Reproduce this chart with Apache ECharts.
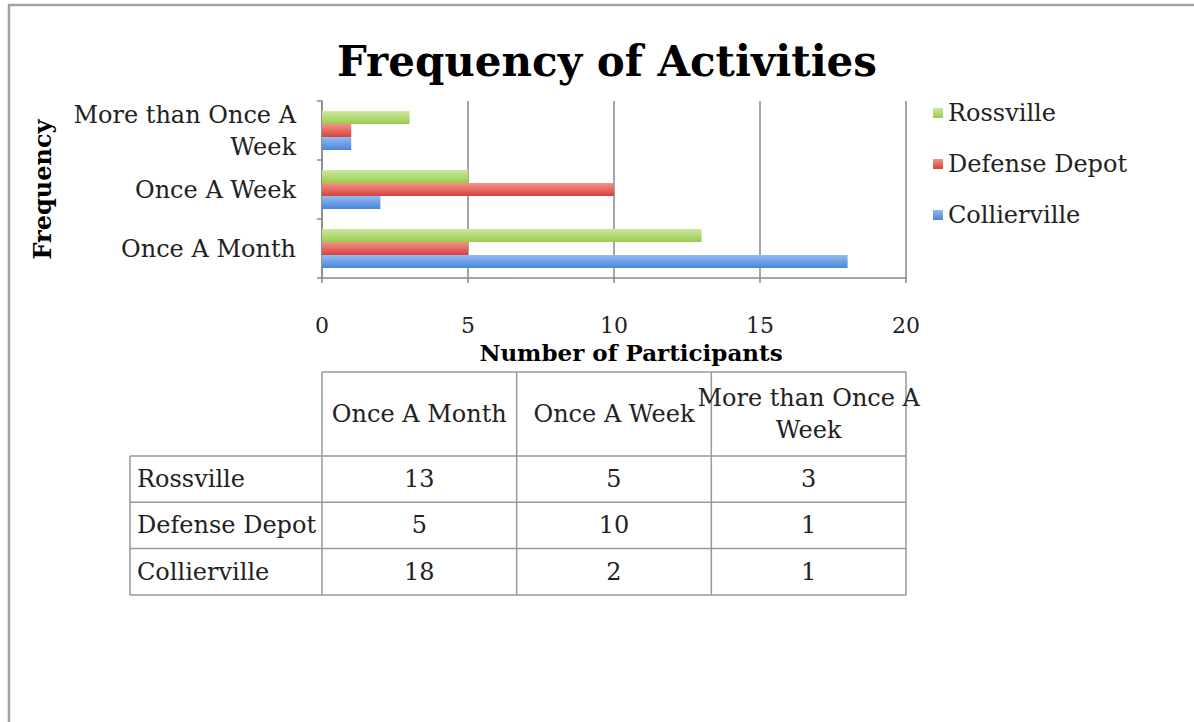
<!DOCTYPE html>
<html>
<head>
    <meta charset="UTF-8">
    <title>Frequency of Activities</title>
    <script src="https://cdn.jsdelivr.net/npm/echarts@6/dist/echarts.min.js"></script>
    <style>
        html, body { margin: 0; padding: 0; background: #fff; }
        #main { width: 1194px; height: 722px; }
    </style>
</head>
<body>
<div id="main"></div>
<script type="text/javascript">
    // categories (bottom to top on the y axis)
    var categories = ['Once A Month', 'Once A Week', 'More than Once A Week'];
    // series, legend order top to bottom
    var seriesNames = ['Rossville', 'Defense Depot', 'Collierville'];
    var rossville = [13, 5, 3];
    var defenseDepot = [5, 10, 1];
    var collierville = [18, 2, 1];
    var xTicks = [0, 5, 10, 15, 20];

    var seriesData = [rossville, defenseDepot, collierville];
    // light top -> dark bottom, like the glossy bars
    var colors = [
        ['#cbe99e', '#9acb4c'],
        ['#f29488', '#d8403e'],
        ['#92bdf2', '#4886d9']
    ];

    var font = 'DejaVu Serif';
    var plotLeft = 322, plotRight = 906, plotTop = 101, plotBottom = 278;

    // wrap long labels onto two lines
    function wrap(s) {
        if (s.length <= 16) return s;
        var i = s.lastIndexOf(' ', 16);
        return s.slice(0, i) + '\n' + s.slice(i + 1);
    }

    var chart = echarts.init(document.getElementById('main'), null, {renderer: 'svg'});

    var series = [];
    for (var i = 0; i < seriesNames.length; i++) {
        series.push({
            name: seriesNames[i],
            type: 'bar',
            barWidth: 13,
            barGap: '0%',
            data: seriesData[i],
            itemStyle: {
                color: new echarts.graphic.LinearGradient(0, 0, 0, 1, [
                    {offset: 0, color: colors[i][0]},
                    {offset: 1, color: colors[i][1]}
                ])
            }
        });
    }

    // data table under the chart, built from the same arrays
    var graphics = [];
    var lineStyle = {stroke: '#999', lineWidth: 1.5};
    var tableLeft = 130, headTop = 372, headBottom = 456, rowH = 46.3;
    var colW = (plotRight - plotLeft) / categories.length;
    var tableBottom = headBottom + rowH * seriesNames.length;

    function line(x1, y1, x2, y2) {
        graphics.push({type: 'line', shape: {x1: x1, y1: y1, x2: x2, y2: y2}, style: lineStyle, silent: true});
    }
    function text(t, x, y, align) {
        graphics.push({
            type: 'text', x: x, y: y, silent: true,
            style: {text: t, font: '24px "' + font + '"', fill: '#222', align: align, verticalAlign: 'middle', lineHeight: 32}
        });
    }

    line(plotLeft, headTop, plotRight, headTop);
    for (var r = 0; r <= seriesNames.length; r++) {
        line(tableLeft, headBottom + r * rowH, plotRight, headBottom + r * rowH);
    }
    line(tableLeft, headBottom, tableLeft, tableBottom);
    for (var c = 0; c <= categories.length; c++) {
        line(plotLeft + c * colW, headTop, plotLeft + c * colW, tableBottom);
    }
    for (var c = 0; c < categories.length; c++) {
        text(wrap(categories[c]), plotLeft + (c + 0.5) * colW, (headTop + headBottom) / 2, 'center');
    }
    for (var r = 0; r < seriesNames.length; r++) {
        var cy = headBottom + (r + 0.5) * rowH;
        text(seriesNames[r], tableLeft + 7, cy, 'left');
        for (var c = 0; c < categories.length; c++) {
            text(String(seriesData[r][c]), plotLeft + (c + 0.5) * colW, cy, 'center');
        }
    }

    // page frame
    graphics.push({
        type: 'rect', silent: true,
        shape: {x: 9, y: 5, width: 1300, height: 800},
        style: {fill: 'none', stroke: '#a3a3a3', lineWidth: 2.5}
    });

    var option = {
        backgroundColor: '#fff',
        animation: false,
        title: {
            text: 'Frequency of Activities',
            left: 337,
            top: 40,
            padding: 0,
            textStyle: {fontFamily: font, fontWeight: 'bold', fontSize: 42, color: '#000'}
        },
        legend: {
            data: seriesNames,
            orient: 'vertical',
            left: 928,
            top: 96,
            icon: 'rect',
            itemWidth: 10,
            itemHeight: 10,
            itemGap: 27,
            textStyle: {fontFamily: font, fontSize: 24, color: '#222'}
        },
        grid: {
            left: plotLeft,
            right: 1194 - plotRight,
            top: plotTop,
            bottom: 722 - plotBottom,
            containLabel: false
        },
        xAxis: {
            type: 'value',
            min: xTicks[0],
            max: xTicks[xTicks.length - 1],
            interval: xTicks[1] - xTicks[0],
            name: 'Number of Participants',
            nameLocation: 'middle',
            nameGap: 63,
            nameTextStyle: {fontFamily: font, fontWeight: 'bold', fontSize: 23, color: '#000', padding: [0, 0, 0, 34]},
            axisLine: {show: true, lineStyle: {color: '#888', width: 1.5}},
            axisTick: {show: true, length: 5, lineStyle: {color: '#888', width: 1.5}},
            axisLabel: {margin: 36, fontFamily: font, fontSize: 22, color: '#222'},
            splitLine: {show: true, lineStyle: {color: '#888', width: 1.5}}
        },
        yAxis: {
            type: 'category',
            data: categories,
            name: 'Frequency',
            nameLocation: 'middle',
            nameRotate: 90,
            nameGap: 268,
            nameTextStyle: {fontFamily: font, fontWeight: 'bold', fontSize: 24, color: '#000'},
            axisLine: {show: true, lineStyle: {color: '#888', width: 1.5}},
            axisTick: {show: true, length: 5, lineStyle: {color: '#888', width: 1.5}},
            axisLabel: {
                margin: 26, fontFamily: font, fontSize: 24, color: '#222', lineHeight: 32,
                formatter: wrap
            }
        },
        series: series,
        graphic: graphics
    };

    chart.setOption(option);
</script>
</body>
</html>
